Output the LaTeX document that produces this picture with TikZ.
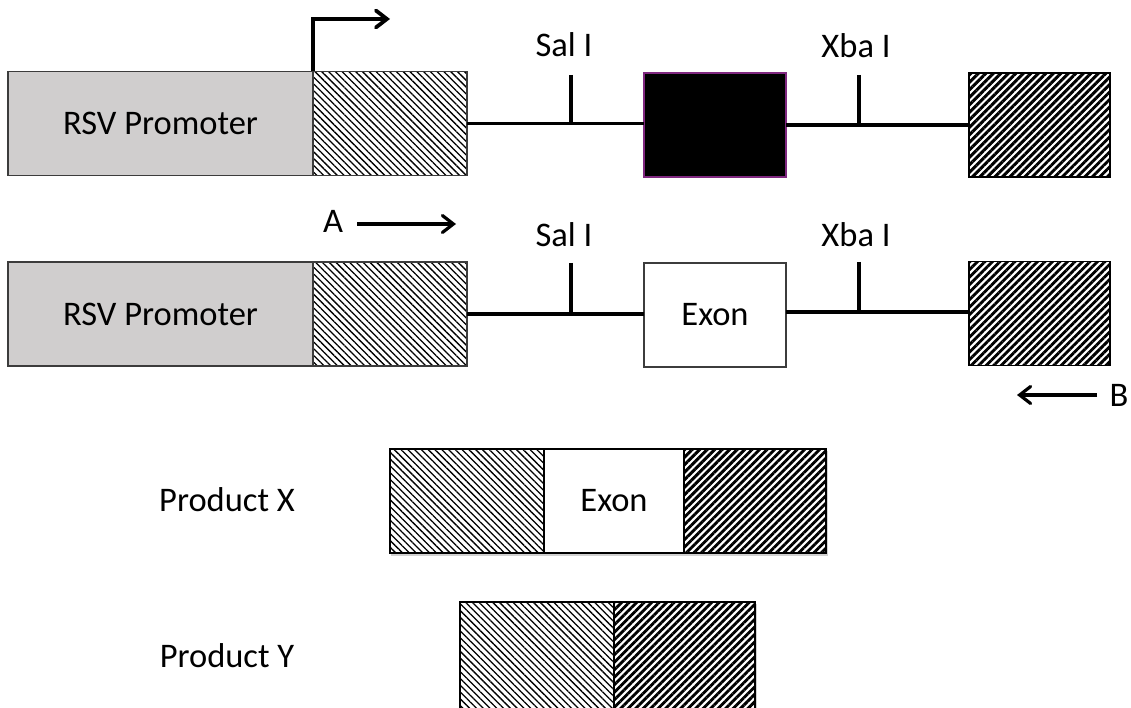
\documentclass[tikz,border=0pt]{standalone}
\usepackage{fontspec}
\setmainfont{Carlito}
\usetikzlibrary{arrows.meta,patterns.meta}
\definecolor{promgray}{RGB}{208,206,206}
\definecolor{edgegray}{RGB}{60,60,60}
\definecolor{blkedge}{RGB}{128,40,128}
\begin{document}
\begin{tikzpicture}[x=1pt,y=1pt,
  every node/.style={font=\fontsize{34.5}{40}\selectfont},
  box/.style={draw=edgegray,line width=1.3pt,minimum height=104pt,inner sep=0pt,outer sep=0pt,anchor=center},
  prom/.style={box,fill=promgray},
  finebox/.style={box,preaction={fill=white},pattern={Lines[angle=-45,distance=4.8pt,line width=1.3pt]}},
  thickbox/.style={box,draw=black,preaction={fill=white},pattern={Lines[angle=45,distance=5.3pt,line width=2.9pt]}},
  blkbox/.style={box,draw=blkedge,fill=black},
  whitebox/.style={box,fill=white},
  lab/.style={anchor=base,inner sep=0pt},
  conn/.style={line width=3.2pt},
  parrow/.style={line width=3.8pt,-{Straight Barb[length=11pt,width=17pt,line cap=round]}},
  arr/.style={line width=3.2pt,-{Straight Barb[length=11pt,width=17pt,line cap=round]}},
  shade/.style={fill=black,opacity=0.18}
]
\useasboundingbox (0,0) rectangle (1131,707);

% ---------- Row 1 ----------
\node[prom,minimum width=305pt] (p1) at (160.5,583.5) {RSV Promoter};
\node[finebox,minimum width=154pt] (h1) at (390,583.5) {};
\node[blkbox,minimum width=142pt] (e1) at (715,582) {};
\node[thickbox,minimum width=141pt] (r1) at (1039.5,582) {};
\draw[conn] (h1.east) -- (h1.east -| e1.west);
\draw[conn] (e1.east) -- (e1.east -| r1.west);
\coordinate (st1) at (571,632);
\coordinate (xt1) at (859,632);
\draw[conn] (st1) -- (st1 |- h1.east);
\draw[conn] (xt1) -- (xt1 |- e1.east);
\node[lab] (sl1) at (564,650) {Sal I};
\node[lab] (xl1) at (856,649) {Xba I};
\coordinate (pa) at (390,688);
\draw[parrow] (p1.north east) |- (pa);

% ---------- Row 2 ----------
\node[prom,minimum width=305pt] (p2) at (160.5,393) {RSV Promoter};
\node[finebox,minimum width=154pt] (h2) at (390,393) {};
\node[whitebox,minimum width=142pt] (e2) at (715,392) {Exon};
\node[thickbox,minimum width=141pt] (r2) at (1039.5,393.5) {};
\coordinate (e2r) at ([yshift=3pt]e2.east);
\draw[conn] (h2.east) -- (h2.east -| e2.west);
\draw[conn] (e2r) -- (e2r -| r2.west);
\coordinate (st2) at (571,444);
\coordinate (xt2) at (859,445);
\draw[conn] (st2) -- (st2 |- h2.east);
\draw[conn] (xt2) -- (xt2 |- e2r);
\node[lab] (sl2) at (564,460) {Sal I};
\node[lab] (xl2) at (856,460) {Xba I};

\node[lab] (A) at (333,474) {A};
\coordinate (a1) at (357,483);
\coordinate (a2) at (456,483);
\draw[arr] (a1) -- (a2);
\node[lab] (B) at (1119,300) {B};
\coordinate (b1) at (1097,312);
\coordinate (b2) at (1017,312);
\draw[arr] (b1) -- (b2);

% ---------- Product X ----------
\fill[shade] (391,151) rectangle (828,256);
\node[finebox,draw=black,line width=1.6pt,minimum width=154pt] (px1) at (467,206) {};
\node[whitebox,draw=black,line width=1.6pt,minimum width=140pt] (px2) at (614,206) {Exon};
\node[thickbox,line width=1.6pt,minimum width=142pt] (px3) at (755,206) {};
\node[lab] (plx) at (227,196) {Product X};

% ---------- Product Y ----------
\fill[shade] (461,-8) rectangle (757,103);
\node[finebox,draw=black,line width=1.6pt,minimum width=154pt,minimum height=112pt] (py1) at (537,49) {};
\node[thickbox,line width=1.6pt,minimum width=141pt,minimum height=112pt] (py2) at (684.5,49) {};
\node[lab] (ply) at (227,40) {Product Y};
\end{tikzpicture}
\end{document}
